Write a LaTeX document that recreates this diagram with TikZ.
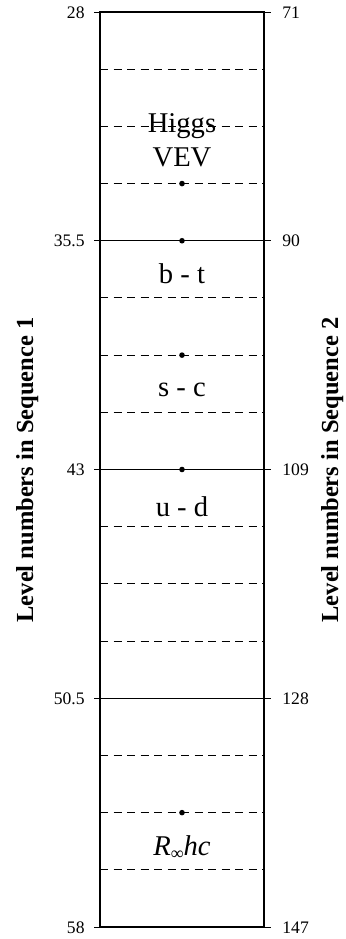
\documentclass[tikz,border=0pt]{standalone}
\usepackage{fontspec}
\setmainfont{Liberation Serif}
\begin{document}
\begin{tikzpicture}[x=0.5pt,y=-0.5pt,
  boxline/.style={line width=0.65pt},
  solidlevel/.style={line width=0.5pt},
  dashlevel/.style={line width=0.5pt, dash pattern=on 4pt off 2.75pt},
  ticklabel/.style={font=\fontsize{8.8pt}{10pt}\selectfont, inner sep=0pt},
  boxlabel/.style={font=\fontsize{14.3pt}{17pt}\selectfont, inner sep=0pt, anchor=base},
  axistitle/.style={font=\fontsize{12.25pt}{14pt}\selectfont\bfseries, inner sep=0pt, anchor=base, rotate=90},
  leveldot/.style={circle, fill=black, inner sep=0pt, minimum size=2.8pt}]
\useasboundingbox (0,0) rectangle (346,939);
\def\xl{100}\def\xr{264}\def\xc{182}
% dashed minor levels
\foreach \i in {1,2,3,5,6,7,9,10,11,13,14,15}{
  \draw[dashlevel] (\xl,{12+57.1875*\i}) -- (\xr,{12+57.1875*\i});
}
% solid major levels with ticks and labels
\foreach \i/\a/\b in {0/28/71,4/35.5/90,8/43/109,12/50.5/128,16/58/147}{
  \coordinate (L\i) at (\xl,{12+57.1875*\i});
  \coordinate (R\i) at (\xr,{12+57.1875*\i});
  \draw[solidlevel] (L\i) -- (R\i);
  \draw[solidlevel] (L\i) -- ++(-6,0);
  \draw[solidlevel] (R\i) -- ++(7,0);
  \node[ticklabel, anchor=base east] (la\i) at (85,{18+57.1875*\i}) {\a};
  \node[ticklabel, anchor=base west] (lb\i) at (282,{18+57.1875*\i}) {\b};
}
% frame
\draw[boxline] (L0) rectangle (R16);
% dots
\foreach \i in {3,4,6,8,14}{
  \node[leveldot] (d\i) at (\xc,{12+57.1875*\i}) {};
}
% labels
\node[boxlabel] (higgs) at (\xc,132) {Higgs};
\node[boxlabel] (vev) at (\xc,166) {VEV};
\node[boxlabel] (bt) at (\xc,283) {b - t};
\node[boxlabel] (sc) at (\xc,396) {s - c};
\node[boxlabel] (ud) at (\xc,516) {u - d};
\node[boxlabel] (ryd) at (\xc,855) {\textit{R}\raisebox{-0.35ex}{\fontsize{9pt}{10pt}\selectfont ∞}\textit{hc}};
% axis titles
\node[axistitle] (t1) at (33,470) {Level numbers in Sequence 1};
\node[axistitle] (t2) at (338,470) {Level numbers in Sequence 2};
\end{tikzpicture}
\end{document}
